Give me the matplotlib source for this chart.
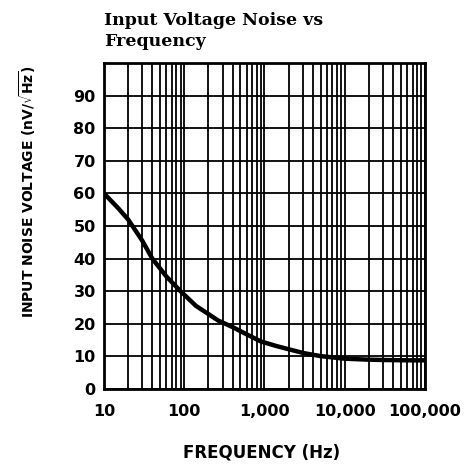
import matplotlib
matplotlib.use("Agg")
import matplotlib.pyplot as plt
import numpy as np
from matplotlib.ticker import LogLocator, NullFormatter

freq = [10, 15, 20, 30, 40, 60, 90, 140, 200, 265, 400, 575, 900, 1400, 2000, 3100, 5000, 10000, 20000, 31000, 60000, 100000]
noise = [60, 55.5, 52, 45.5, 40, 34.5, 30, 25.5, 23, 21, 19, 17, 14.6, 13.2, 12.2, 11, 10.1, 9.3, 9.0, 8.9, 8.8, 8.8]

xticks = [10, 100, 1000, 10000, 100000]
xticklabels = ["10", "100", "1,000", "10,000", "100,000"]
yticks = [0, 10, 20, 30, 40, 50, 60, 70, 80, 90]

fig = plt.figure(figsize=(4.71, 4.67), dpi=100)
ax = fig.add_axes([0.2208, 0.167, 0.6815, 0.698])
ax.set_xscale("log")
ax.set_xlim(10, 100000)
ax.set_ylim(0, 100)

ax.set_xticks(xticks)
ax.set_xticklabels(xticklabels)
ax.set_yticks(yticks)
ax.set_yticklabels([str(v) for v in yticks])
ax.xaxis.set_minor_locator(LogLocator(base=10, subs=np.arange(2, 10)))
ax.xaxis.set_minor_formatter(NullFormatter())
ax.grid(True, which="both", axis="x", color="black", linewidth=1.3)
ax.grid(True, which="major", axis="y", color="black", linewidth=1.3)
ax.tick_params(which="both", length=0)
ax.tick_params(axis="y", pad=6)
ax.tick_params(axis="x", pad=11)
for s in ax.spines.values():
    s.set_linewidth(2)
    s.set_color("black")

ax.plot(freq, noise, color="black", linewidth=3.2, solid_capstyle="butt", zorder=5)

for lab in ax.get_xticklabels() + ax.get_yticklabels():
    lab.set_fontfamily("DejaVu Sans")
    lab.set_fontweight("bold")
    lab.set_fontsize(11.5)

fig.text(0.2208, 0.975, "Input Voltage Noise vs\nFrequency", ha="left", va="top",
         fontfamily="DejaVu Serif", fontweight="bold", fontsize=12.5, linespacing=1.3)
fig.text(0.556, 0.03, "FREQUENCY (Hz)", ha="center", va="center",
         fontfamily="DejaVu Sans", fontweight="bold", fontsize=12)
fig.text(0.058, 0.589, r"INPUT NOISE VOLTAGE (nV/$\sqrt{\mathbf{Hz}}$)", ha="center", va="center",
         rotation=90, fontfamily="DejaVu Sans", fontweight="bold", fontsize=10)

fig.savefig("out.png", dpi=100)
